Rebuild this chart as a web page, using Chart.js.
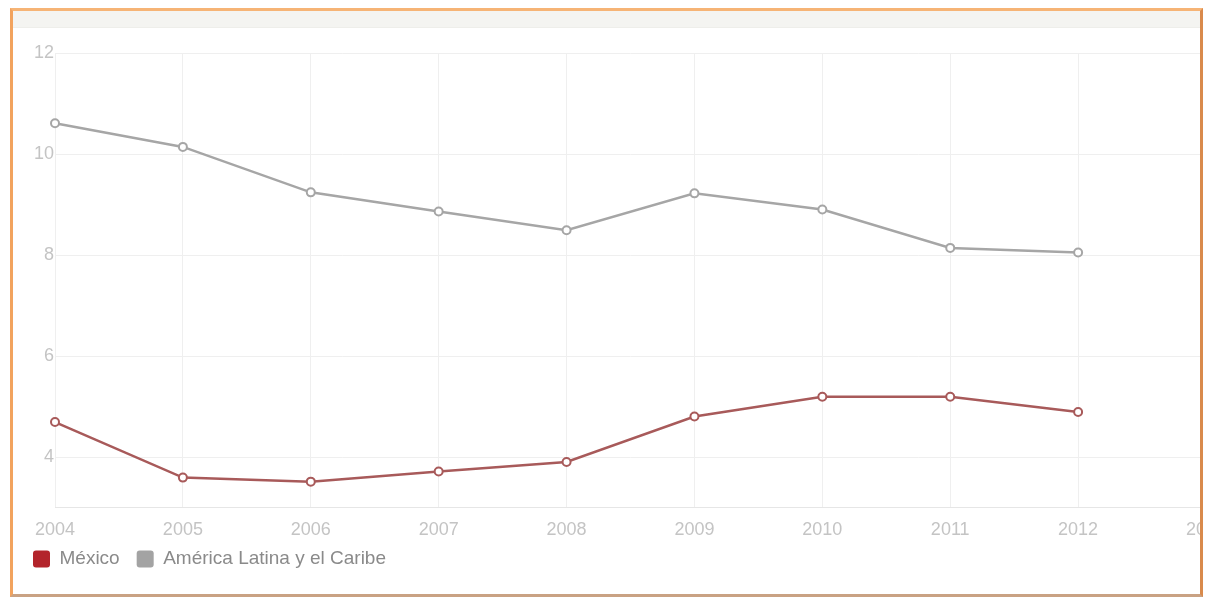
<!DOCTYPE html>
<html lang="es">
<head>
    <meta charset="UTF-8">
    <title>México vs América Latina y el Caribe</title>
    <script src="https://cdn.jsdelivr.net/npm/chart.js"></script>
    <style>
        body { margin: 0; background: #fff; font-family: "Liberation Sans", Arial, sans-serif; }
        #frame {
            position: absolute; left: 10px; top: 8px; width: 1193px; height: 589px;
            box-sizing: border-box; overflow: hidden; background: #fff;
            border: 3px solid #f2a35e;
            border-top-color: #f6b476; border-right-color: #d98a4c; border-bottom-color: #c9a283;
        }
        #strip {
            position: absolute; left: 0; top: 0; right: 0; height: 16px;
            background: #f4f4f1; border-bottom: 1px solid #eeeeea;
        }
        #wrap { position: absolute; left: 0; top: 15px; }
    </style>
</head>
<body>
    <div id="frame">
        <div id="strip"></div>
        <div id="wrap"><canvas id="lineChart" width="1199" height="581"></canvas></div>
    </div>

    <script>
        const years = ['2004', '2005', '2006', '2007', '2008', '2009', '2010', '2011', '2012', '2013']
        const mexico = [4.70, 3.60, 3.52, 3.72, 3.91, 4.81, 5.20, 5.20, 4.90, null]
        const latam = [10.62, 10.15, 9.25, 8.87, 8.50, 9.23, 8.91, 8.15, 8.06, null]

        const tickColor = '#c4c4c4'
        const gridColor = '#efefef'
        const fontFamily = '"Liberation Sans", Arial, sans-serif'

        // pull the legend closer to the year labels
        const liftLegend = {
            id: 'liftLegend',
            afterLayout(chart) {
                chart.legend.top -= 19
                chart.legend.bottom -= 19
            }
        }

        const ctx = document.getElementById('lineChart').getContext('2d')
        const chart = new Chart(ctx, {
            type: 'line',
            data: {
                labels: years,
                datasets: [{
                    label: 'México',
                    data: mexico,
                    borderColor: '#a85a5a',
                    backgroundColor: '#b3242b',
                    borderWidth: 2.5,
                    pointRadius: 4,
                    pointBorderWidth: 2,
                    pointBackgroundColor: '#fff',
                    pointBorderColor: '#a85a5a',
                    fill: false
                }, {
                    label: 'América Latina y el Caribe',
                    data: latam,
                    borderColor: '#a6a6a6',
                    backgroundColor: '#a3a3a3',
                    borderWidth: 2.5,
                    pointRadius: 4,
                    pointBorderWidth: 2,
                    pointBackgroundColor: '#fff',
                    pointBorderColor: '#a6a6a6',
                    fill: false
                }]
            },
            plugins: [liftLegend],
            options: {
                responsive: false,
                animation: false,
                layout: { padding: { top: 27.5, left: 3, right: 0, bottom: 9.5 } },
                plugins: {
                    tooltip: { enabled: false },
                    legend: {
                        position: 'bottom',
                        align: 'start',
                        labels: {
                            boxWidth: 17,
                            boxHeight: 17,
                            padding: 17,
                            color: '#8a8a8a',
                            font: { family: fontFamily, size: 19 },
                            // square swatches filled with the series colour
                            generateLabels(c) {
                                return c.data.datasets.map((ds, i) => ({
                                    text: ds.label,
                                    fillStyle: ds.backgroundColor,
                                    strokeStyle: ds.backgroundColor,
                                    fontColor: '#8a8a8a',
                                    lineWidth: 0,
                                    borderRadius: 3,
                                    datasetIndex: i
                                }))
                            }
                        }
                    }
                },
                scales: {
                    x: {
                        offset: false,
                        grid: { color: gridColor, drawTicks: false },
                        border: { color: '#e6e6e6' },
                        ticks: {
                            color: tickColor, padding: 11, maxRotation: 0, autoSkip: false,
                            font: { family: fontFamily, size: 18 }
                        },
                        afterFit(scale) { scale.paddingLeft = 0; scale.paddingRight = 0 }
                    },
                    y: {
                        min: 3,
                        max: 12,
                        afterBuildTicks(scale) {
                            scale.ticks = [4, 6, 8, 10, 12].map(v => ({ value: v }))
                        },
                        grid: { color: gridColor, drawTicks: false },
                        border: { display: false },
                        ticks: {
                            color: tickColor, padding: 1,
                            font: { family: fontFamily, size: 18 }
                        },
                        afterFit(scale) { scale.width = 39; scale.paddingTop = 0; scale.paddingBottom = 0 }
                    }
                }
            }
        })
    </script>
</body>
</html>
